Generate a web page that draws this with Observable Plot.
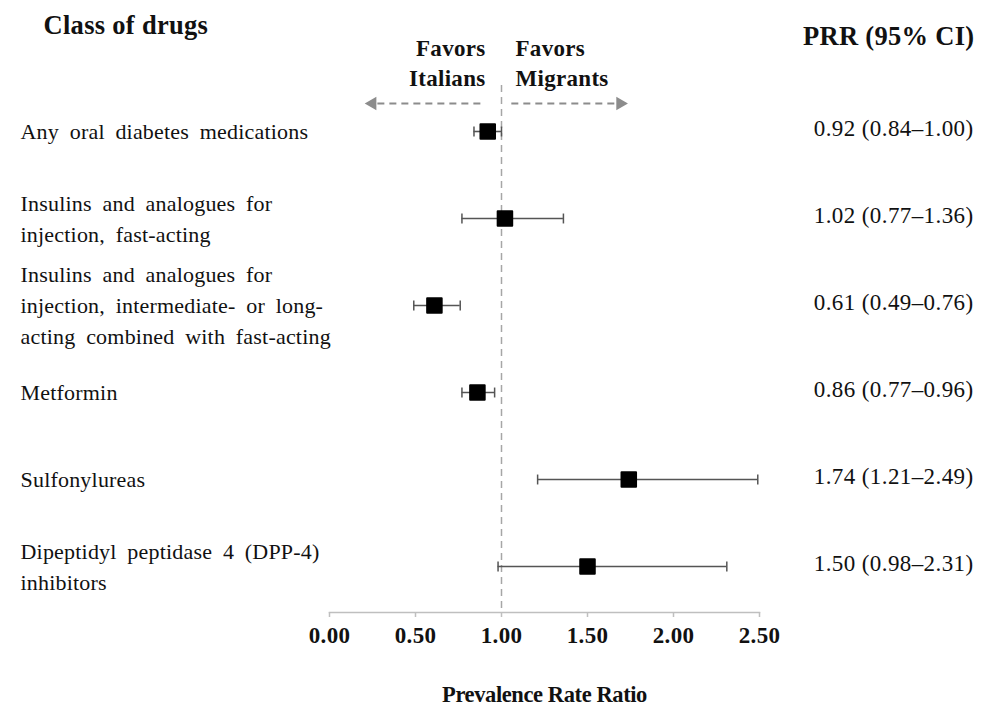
<!DOCTYPE html>
<html><head><meta charset="utf-8">
<script src="https://cdn.jsdelivr.net/npm/d3@7"></script>
<script src="https://cdn.jsdelivr.net/npm/@observablehq/plot@0.6"></script>
<style>
body{margin:0;background:#fff;}
svg text{letter-spacing:0.3px;}
g[font-size="22"]:not([font-weight]) text{word-spacing:5px;letter-spacing:0.2px;}
g[font-size="23"]:not([font-weight]) text{letter-spacing:0.4px;}
g[font-size="22.5"] text{letter-spacing:-0.4px;}
</style></head><body><div id="chart"></div>
<script>
const drugClasses = [
  "Any oral diabetes medications",
  "Insulins and analogues for\ninjection, fast-acting",
  "Insulins and analogues for\ninjection, intermediate- or long-\nacting combined with fast-acting",
  "Metformin",
  "Sulfonylureas",
  "Dipeptidyl peptidase 4 (DPP-4)\ninhibitors"
];
const prr    = [0.92, 1.02, 0.61, 0.86, 1.74, 1.50];
const ciLow  = [0.84, 0.77, 0.49, 0.77, 1.21, 0.98];
const ciHigh = [1.00, 1.36, 0.76, 0.96, 2.49, 2.31];
const xTicks = [0, 0.5, 1, 1.5, 2, 2.5];
const favorLeft = "Favors\nItalians";
const favorRight = "Favors\nMigrants";
const favorArrows = [{from: 0.88, to: 0.25}, {from: 1.06, to: 1.69}];
const leftHeader = "Class of drugs";
const rightHeader = "PRR (95% CI)";
const axisTitle = "Prevalence Rate Ratio";

const rows = drugClasses.map((label, i) => ({label, prr: prr[i], lo: ciLow[i], hi: ciHigh[i]}));
const fmt = v => v.toFixed(2);
const vbar = {draw(ctx, size){ const h = Math.sqrt(size) / 2; ctx.moveTo(0, -h); ctx.lineTo(0, h); }};

const chart = Plot.plot({
  width: 985,
  height: 709,
  marginLeft: 329,
  marginRight: 226,
  marginTop: 85,
  marginBottom: 97,
  style: {fontFamily: "'Liberation Serif', 'Times New Roman', serif", background: "#fff", color: "#000"},
  x: {domain: [0, 2.5]},
  y: {type: "point", domain: drugClasses, range: [130, 566], padding: 0, axis: null},
  marks: [
    Plot.ruleX([1], {stroke: "#a6a6a6", strokeWidth: 1.5, strokeDasharray: "7,5"}),
    Plot.frame({anchor: "bottom", stroke: "#bfbfbf", strokeWidth: 1.5}),
    Plot.axisX({ticks: xTicks, tickFormat: fmt, tickSize: 5, tickPadding: 9, stroke: "#bfbfbf", strokeWidth: 1.5,
      fill: "#111", fontSize: 23, fontWeight: "bold", label: null}),
    Plot.ruleY(rows, {y: "label", x1: "lo", x2: "hi", stroke: "#555", strokeWidth: 1.6}),
    Plot.dot(rows, {y: "label", x: "lo", symbol: vbar, r: 5.6, fill: "none", stroke: "#555", strokeWidth: 1.5}),
    Plot.dot(rows, {y: "label", x: "hi", symbol: vbar, r: 5.6, fill: "none", stroke: "#555", strokeWidth: 1.5}),
    Plot.dot(rows, {y: "label", x: "prr", symbol: "square", r: 8.2, fill: "#000", stroke: "#000", strokeWidth: 2, strokeLinejoin: "round"}),
    Plot.text(rows, {y: "label", text: "label", frameAnchor: "left", dx: -309, dy: -2, textAnchor: "start",
      lineAnchor: "middle", lineHeight: 1.41, fontSize: 22, fill: "#111"}),
    Plot.text(rows, {y: "label", text: d => `${fmt(d.prr)} (${fmt(d.lo)}–${fmt(d.hi)})`, frameAnchor: "right",
      dx: 214, dy: -3, textAnchor: "end", lineAnchor: "middle", fontSize: 23, fill: "#111"}),
    Plot.text([leftHeader], {frameAnchor: "top-left", dx: -286, dy: -60, textAnchor: "start", lineAnchor: "middle",
      fontSize: 26.5, fontWeight: "bold", fill: "#111"}),
    Plot.text([rightHeader], {frameAnchor: "top-right", dx: 215, dy: -49, textAnchor: "end", lineAnchor: "middle",
      fontSize: 26.5, fontWeight: "bold", fill: "#111"}),
    Plot.text([favorLeft], {x: () => 1, frameAnchor: "top", dx: -16, dy: 0, textAnchor: "end", lineAnchor: "bottom",
      lineHeight: 1.3, fontSize: 23, fontWeight: "bold", fill: "#111"}),
    Plot.text([favorRight], {x: () => 1, frameAnchor: "top", dx: 14, dy: 0, textAnchor: "start", lineAnchor: "bottom",
      lineHeight: 1.3, fontSize: 23, fontWeight: "bold", fill: "#111"}),
    Plot.ruleY(favorArrows, {y: () => drugClasses[0], dy: -28, x1: "from", x2: "to", stroke: "#8c8c8c", strokeWidth: 2, strokeDasharray: "7,5"}),
    Plot.dot(favorArrows, {y: () => drugClasses[0], dy: -28, x: "to", symbol: "triangle", rotate: d => d.to < 1 ? -90 : 90,
      r: 5, fill: "#8c8c8c", stroke: "none"}),
    Plot.text([axisTitle], {frameAnchor: "bottom", dy: 82, lineAnchor: "middle", fontSize: 22.5, fontWeight: "bold", fill: "#111"})
  ]
});
document.getElementById("chart").appendChild(chart);
</script></body></html>
